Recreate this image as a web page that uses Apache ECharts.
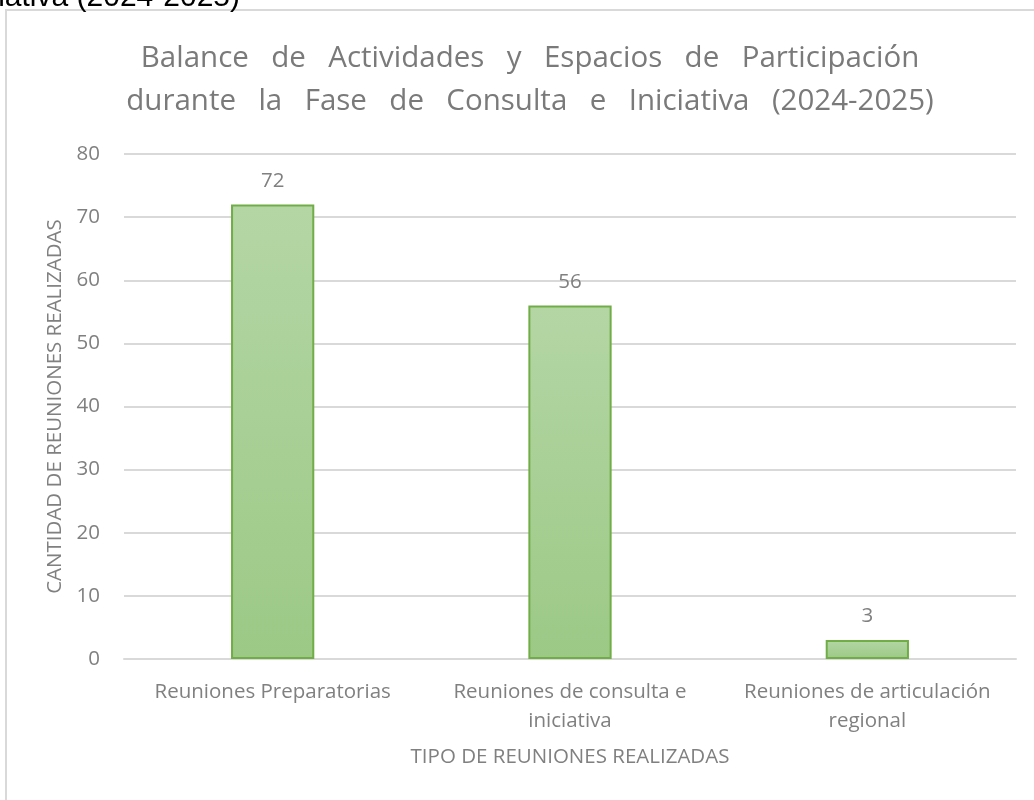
<!DOCTYPE html>
<html>
<head>
<meta charset="utf-8">
<script src="https://cdn.jsdelivr.net/npm/echarts@6/dist/echarts.min.js"></script>
<style>
  html, body { margin: 0; padding: 0; background: #fff; }
  #chart { width: 1034px; height: 800px; }
</style>
</head>
<body>
<div id="chart"></div>
<script>
var categories = [
  'Reuniones Preparatorias',
  'Reuniones de consulta e\niniciativa',
  'Reuniones de articulación\nregional'
]
var reuniones = [72, 56, 3]
var yTicks = { min: 0, max: 80, interval: 10 }

var chart = echarts.init(document.getElementById('chart'))
var font = '"Open Sans", sans-serif'
var gray = '#808080'
var sp = '\u2002 ' // espaciado ancho entre palabras del título

var titleLines = [
  'Balance de Actividades y Espacios de Participación',
  'durante la Fase de Consulta e Iniciativa (2024-2025)'
]

chart.setOption({
  backgroundColor: '#fff',
  textStyle: { fontFamily: font },
  title: {
    text: titleLines.map(function(l) { return l.split(' ').join(sp) }).join('\n'),
    left: 525,
    top: 32,
    textAlign: 'center',
    textStyle: {
      fontFamily: font,
      fontSize: 29.5,
      fontWeight: 'normal',
      color: '#7a7a7a',
      lineHeight: 43
    }
  },
  graphic: [
    {
      // recuadro del gráfico (se sale del encuadre por la derecha y abajo)
      type: 'rect',
      shape: { x: 6, y: 10, width: 1100, height: 900 },
      style: { fill: 'none', stroke: '#d9d9d9', lineWidth: 2 },
      silent: true
    },
    {
      // texto cortado arriba
      type: 'text',
      x: 240,
      y: 13,
      style: {
        text: 'e Iniciativa (2024-2025)',
        align: 'right',
        verticalAlign: 'bottom',
        fontFamily: 'Arial, "Liberation Sans", sans-serif',
        fontSize: 30,
        fill: '#000'
      },
      silent: true
    }
  ],
  grid: {
    left: 124,
    right: 18,
    top: 154,
    bottom: 141
  },
  xAxis: {
    type: 'category',
    data: categories,
    name: 'TIPO DE REUNIONES REALIZADAS',
    nameLocation: 'middle',
    nameGap: 88,
    nameTextStyle: { fontFamily: font, fontSize: 20.5, color: gray },
    axisLine: { lineStyle: { color: '#d9d9d9', width: 2 } },
    axisTick: { show: false },
    axisLabel: {
      fontFamily: font,
      fontSize: 20.5,
      color: gray,
      margin: 19,
      lineHeight: 29,
      interval: 0
    }
  },
  yAxis: {
    type: 'value',
    min: yTicks.min,
    max: yTicks.max,
    interval: yTicks.interval,
    name: 'CANTIDAD DE REUNIONES REALIZADAS',
    nameLocation: 'middle',
    nameGap: 56,
    nameTextStyle: { fontFamily: font, fontSize: 20.5, color: gray },
    axisLine: { show: false },
    axisTick: { show: false },
    axisLabel: { fontFamily: font, fontSize: 20.5, color: gray, margin: 24 },
    splitLine: { lineStyle: { color: '#d9d9d9', width: 2 } }
  },
  series: [
    {
      type: 'bar',
      data: reuniones,
      barWidth: '28%',
      itemStyle: {
        color: new echarts.graphic.LinearGradient(0, 0, 0, 1, [
          { offset: 0, color: '#b4d6a5' },
          { offset: 1, color: '#9cc986' }
        ]),
        borderColor: '#70ad47',
        borderWidth: 2
      },
      label: {
        show: true,
        position: 'top',
        distance: 13,
        fontFamily: font,
        fontSize: 20.5,
        color: gray
      }
    }
  ]
})
</script>
</body>
</html>
